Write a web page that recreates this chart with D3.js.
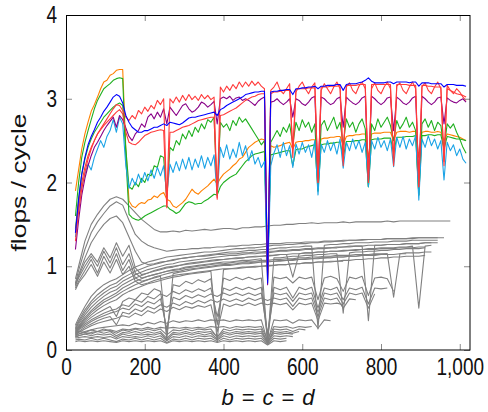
<!DOCTYPE html>
<html>
<head>
<meta charset="utf-8">
<script src="https://cdn.jsdelivr.net/npm/d3@7/dist/d3.min.js"></script>
<style>
  body { margin: 0; background: #fff; }
  text { font-family: "Liberation Sans", Arial, sans-serif; fill: #111; }
</style>
</head>
<body>
<svg width="488" height="412"></svg>
<script>
// sample grids (b = c = d)
var colorX = d3.range(24, 1017, 8);                 // 125 points
var grayX = [24].concat(d3.range(32, 1009, 16));    // 63 points

var xTicks = [0, 200, 400, 600, 800, 1000];
var xTickLabels = ["0", "200", "400", "600", "800", "1,000"];
var yTicks = [0, 1, 2, 3, 4];

// coloured series, one row = 64 units of x
var orangeVals = [
  1.90, 2.15, 2.40, 2.58, 2.72, 2.85, 2.93, 3.02,
  3.12, 3.20, 3.22, 3.28, 3.30, 3.34, 3.35, 3.35,
  2.40, 1.78, 1.72, 1.70, 1.74, 1.76, 1.75, 1.79,
  1.80, 1.84, 1.82, 1.86, 1.88, 1.80, 1.78, 1.72,
  1.70, 1.73, 1.76, 1.80, 1.86, 1.92, 1.88, 1.86,
  1.90, 1.93, 1.96, 2.00, 2.04, 1.98, 2.05, 2.10,
  2.13, 2.16, 2.20, 2.23, 2.28, 2.30, 2.36, 2.42,
  2.45, 2.48, 2.50, 2.52, 2.51, 0.95, 2.44, 2.42,
  2.43, 2.44, 2.46, 2.47, 2.48, 2.40, 2.48, 2.49,
  2.49, 2.50, 2.50, 2.51, 2.51, 2.30, 2.52, 2.53,
  2.53, 2.54, 2.54, 2.55, 2.55, 2.45, 2.55, 2.56,
  2.56, 2.57, 2.57, 2.58, 2.58, 2.30, 2.58, 2.59,
  2.59, 2.59, 2.60, 2.60, 2.60, 2.50, 2.60, 2.61,
  2.61, 2.61, 2.60, 2.61, 2.61, 2.30, 2.60, 2.61,
  2.61, 2.60, 2.60, 2.61, 2.60, 2.50, 2.58, 2.57,
  2.56, 2.55, 2.54, 2.52, 2.50];

var greenTopVals = [
  1.60, 2.00, 2.30, 2.48, 2.62, 2.75, 2.88, 2.98,
  3.05, 3.12, 3.15, 3.18, 3.22, 3.24, 3.25, 3.24,
  2.30, 1.62, 1.58, 1.56, 1.55, 1.57, 1.60, 1.62,
  1.64, 1.66, 1.68, 1.70, 1.72, 1.72, 1.68, 1.66,
  1.63, 1.65, 1.70, 1.75, 1.77, 1.76, 1.74, 1.75,
  1.75, 1.78, 1.80, 1.83, 1.86, 1.85, 1.95, 2.00,
  2.03, 2.06, 2.08, 2.10, 2.15, 2.20, 2.25, 2.28,
  2.32, 2.34, 2.35, 2.36, 2.37, 0.92, 2.33, 2.34,
  2.35, 2.36, 2.37, 2.38, 2.38, 2.20, 2.39, 2.40,
  2.40, 2.42, 2.43, 2.44, 2.45, 1.90, 2.45, 2.46,
  2.46, 2.47, 2.47, 2.48, 2.48, 2.30, 2.49, 2.49,
  2.49, 2.50, 2.50, 2.51, 2.51, 1.95, 2.51, 2.52,
  2.52, 2.52, 2.53, 2.53, 2.53, 2.35, 2.54, 2.54,
  2.54, 2.55, 2.55, 2.55, 2.56, 1.85, 2.56, 2.56,
  2.57, 2.57, 2.56, 2.57, 2.57, 2.40, 2.55, 2.54,
  2.53, 2.52, 2.52, 2.51, 2.50];

var greenLowVals = [
  1.45, 1.80, 2.10, 2.28, 2.42, 2.52, 2.60, 2.66,
  2.72, 2.78, 2.82, 2.86, 2.90, 2.93, 2.95, 2.92,
  2.40, 1.95, 1.92, 2.00, 1.95, 2.05, 2.00, 2.10,
  2.08, 2.20, 2.18, 2.32, 2.30, 1.80, 2.42, 2.38,
  2.50, 2.45, 2.58, 2.52, 2.62, 2.55, 2.66, 2.60,
  2.70, 2.64, 2.75, 2.72, 2.78, 1.85, 2.72, 2.66,
  2.70, 2.62, 2.74, 2.68, 2.78, 2.72, 2.76, 2.70,
  2.64, 2.58, 2.52, 2.45, 2.50, 0.90, 2.48, 2.55,
  2.62, 2.55, 2.66, 2.60, 2.70, 2.45, 2.72, 2.62,
  2.75, 2.66, 2.72, 2.60, 2.70, 1.90, 2.68, 2.74,
  2.62, 2.70, 2.78, 2.64, 2.72, 2.45, 2.76, 2.66,
  2.72, 2.60, 2.70, 2.76, 2.64, 1.95, 2.70, 2.62,
  2.76, 2.66, 2.72, 2.78, 2.68, 2.50, 2.74, 2.64,
  2.70, 2.78, 2.66, 2.72, 2.62, 1.85, 2.70, 2.76,
  2.66, 2.74, 2.62, 2.72, 2.68, 2.40, 2.70, 2.65,
  2.70, 2.60, 2.52, 2.42, 2.35];

var cyanVals = [
  1.35, 1.70, 1.95, 2.10, 2.22, 2.15, 2.30, 2.40,
  2.50, 2.42, 2.55, 2.62, 2.75, 2.60, 2.78, 2.70,
  2.20, 1.93, 2.05, 1.97, 2.10, 2.00, 2.12, 2.02,
  2.15, 2.05, 2.18, 2.08, 2.20, 1.86, 2.22, 2.12,
  2.25, 2.14, 2.28, 2.16, 2.30, 2.15, 2.28, 2.18,
  2.32, 2.17, 2.30, 2.20, 2.33, 1.84, 2.42, 2.30,
  2.45, 2.28, 2.40, 2.30, 2.48, 2.32, 2.44, 2.26,
  2.38, 2.22, 2.30, 2.18, 2.25, 0.82, 2.20, 2.35,
  2.45, 2.30, 2.48, 2.32, 2.44, 2.18, 2.46, 2.34,
  2.48, 2.36, 2.45, 2.30, 2.50, 1.85, 2.46, 2.36,
  2.50, 2.38, 2.48, 2.34, 2.52, 2.17, 2.48, 2.38,
  2.52, 2.40, 2.50, 2.36, 2.48, 1.95, 2.50, 2.40,
  2.54, 2.42, 2.50, 2.38, 2.52, 2.19, 2.54, 2.42,
  2.55, 2.40, 2.52, 2.44, 2.56, 1.79, 2.52, 2.42,
  2.56, 2.44, 2.52, 2.40, 2.50, 2.03, 2.48, 2.38,
  2.45, 2.32, 2.40, 2.28, 2.23];

var purpleVals = [
  1.20, 1.55, 1.85, 2.05, 2.20, 2.32, 2.42, 2.48,
  2.55, 2.62, 2.68, 2.73, 2.78, 2.66, 2.80, 2.75,
  2.65, 2.55, 2.50, 2.58, 2.62, 2.70, 2.66, 2.78,
  2.82, 2.76, 2.84, 2.78, 2.88, 2.70, 2.90, 2.85,
  2.80, 2.86, 2.92, 2.94, 2.88, 2.84, 2.86, 2.90,
  2.96, 2.94, 2.90, 2.93, 2.97, 2.70, 3.00, 3.02,
  3.00, 3.03, 2.98, 3.01, 3.02, 2.98, 3.00, 2.98,
  2.95, 2.92, 2.97, 3.00, 3.02, 0.78, 2.96, 2.97,
  3.00, 2.96, 2.93, 2.96, 3.00, 2.78, 3.00, 2.98,
  2.94, 2.92, 2.96, 3.01, 3.03, 2.05, 3.02, 3.00,
  2.96, 2.93, 2.95, 3.00, 3.02, 2.66, 3.02, 2.98,
  2.95, 2.93, 2.96, 3.01, 3.03, 2.07, 3.03, 3.00,
  2.96, 2.93, 2.96, 3.01, 3.02, 2.62, 3.02, 2.99,
  2.95, 2.93, 2.96, 3.01, 3.03, 2.05, 3.03, 3.00,
  2.96, 2.93, 2.96, 3.01, 3.02, 2.70, 3.01, 2.98,
  2.96, 2.95, 2.98, 3.00, 2.96];

var redAVals = [
  1.40, 1.75, 2.00, 2.18, 2.32, 2.42, 2.50, 2.58,
  2.64, 2.70, 2.76, 2.82, 2.88, 2.93, 2.92, 2.86,
  2.78, 2.74, 2.80, 2.76, 2.86, 2.82, 2.90, 2.85,
  2.92, 2.88, 2.98, 2.93, 3.00, 1.72, 3.00, 2.95,
  3.02, 2.96, 3.04, 2.98, 3.05, 2.99, 3.03, 2.98,
  3.05, 3.00, 3.04, 2.99, 3.02, 1.80, 3.14, 3.08,
  3.15, 3.10, 3.17, 3.12, 3.20, 3.14, 3.20, 3.15,
  3.21, 3.16, 3.20, 3.15, 3.12, 0.85, 3.10, 3.14,
  3.20, 3.10, 3.06, 3.12, 3.18, 2.30, 3.08, 3.15,
  3.20, 3.12, 3.06, 3.14, 3.19, 2.00, 3.10, 3.18,
  3.12, 3.06, 3.14, 3.20, 3.12, 2.20, 3.14, 3.19,
  3.10, 3.06, 3.15, 3.20, 3.12, 2.00, 3.12, 3.19,
  3.10, 3.06, 3.14, 3.20, 3.12, 2.20, 3.15, 3.19,
  3.10, 3.06, 3.14, 3.20, 3.12, 1.95, 3.14, 3.19,
  3.10, 3.06, 3.14, 3.20, 3.12, 2.20, 3.16, 3.10,
  3.06, 3.12, 3.08, 3.02, 2.98];

var redBVals = [
  1.30, 1.65, 1.92, 2.12, 2.28, 2.40, 2.50, 2.58,
  2.63, 2.68, 2.72, 2.76, 2.80, 2.84, 2.87, 2.82,
  2.60, 2.48, 2.46, 2.45, 2.48, 2.52, 2.56, 2.58,
  2.60, 2.61, 2.62, 2.63, 2.62, 1.70, 2.60, 2.60,
  2.62, 2.64, 2.66, 2.67, 2.68, 2.70, 2.72, 2.74,
  2.75, 2.76, 2.77, 2.78, 2.78, 1.82, 2.80, 2.81,
  2.83, 2.85, 2.87, 2.89, 2.92, 2.95, 2.98, 3.00,
  3.02, 3.03, 3.05, 3.06, 3.06, 0.88, 3.06, 3.08,
  3.08, 3.09, 3.10, 3.10, 3.10, 2.40, 3.11, 3.12,
  3.12, 3.12, 3.13, 3.13, 3.13, 2.00, 3.14, 3.14,
  3.14, 3.15, 3.15, 3.15, 3.16, 2.25, 3.16, 3.16,
  3.16, 3.16, 3.17, 3.17, 3.17, 2.00, 3.17, 3.17,
  3.17, 3.17, 3.17, 3.17, 3.17, 2.25, 3.17, 3.17,
  3.17, 3.17, 3.16, 3.16, 3.16, 1.95, 3.16, 3.16,
  3.15, 3.15, 3.14, 3.14, 3.14, 2.25, 3.12, 3.10,
  3.08, 3.06, 3.05, 3.04, 3.02];

var blueVals = [
  1.40, 1.80, 2.10, 2.30, 2.45, 2.55, 2.63, 2.72,
  2.78, 2.85, 2.90, 2.96, 3.02, 3.05, 3.03, 2.95,
  2.80, 2.72, 2.66, 2.63, 2.60, 2.60, 2.62, 2.62,
  2.64, 2.66, 2.66, 2.68, 2.70, 2.68, 2.72, 2.71,
  2.70, 2.69, 2.71, 2.74, 2.77, 2.78, 2.78, 2.79,
  2.80, 2.81, 2.82, 2.83, 2.84, 2.80, 2.87, 2.89,
  2.92, 2.94, 2.96, 2.98, 3.00, 3.02, 3.05, 3.06,
  3.07, 3.08, 3.08, 3.09, 3.09, 0.80, 3.08, 3.09,
  3.09, 3.10, 3.10, 3.11, 3.11, 3.05, 3.12, 3.12,
  3.13, 3.13, 3.14, 3.14, 3.15, 3.12, 3.15, 3.15,
  3.16, 3.16, 3.16, 3.17, 3.17, 3.10, 3.17, 3.18,
  3.18, 3.18, 3.19, 3.20, 3.22, 3.25, 3.21, 3.19,
  3.19, 3.19, 3.19, 3.20, 3.20, 3.18, 3.20, 3.20,
  3.20, 3.20, 3.19, 3.20, 3.20, 3.15, 3.19, 3.19,
  3.19, 3.18, 3.18, 3.18, 3.18, 3.14, 3.17, 3.17,
  3.17, 3.16, 3.16, 3.16, 3.15];

// grey series, one row = 128 units of x (last value of each row sits on a multiple of 128)
var g01 = [0.85, 1.00, 1.30, 1.50, 1.62, 1.72, 1.80, 1.83,
  1.80, 1.72, 1.64, 1.56, 1.50, 1.44, 1.41, 1.41,
  1.42, 1.41, 1.43, 1.42, 1.43, 1.44, 1.43, 1.44,
  1.45, 1.45, 1.44, 1.46, 1.46, 1.47, 1.47, 1.48,
  1.49, 1.49, 1.50, 1.50, 1.51, 1.51, 1.52, 1.51,
  1.52, 1.52, 1.52, 1.53, 1.52, 1.53, 1.53, 1.53,
  1.53, 1.53, 1.54, 1.53, 1.54, 1.54, 1.54, 1.54,
  1.54, 1.54, 1.54, 1.54, 1.54];
var g02 = [0.80, 0.95, 1.20, 1.40, 1.53, 1.63, 1.72, 1.77,
  1.73, 1.55, 1.38, 1.30, 1.25, 1.22, 1.20, 1.18,
  1.19, 1.20, 1.20, 1.21, 1.21, 1.22, 1.22, 1.23,
  1.23, 1.24, 1.24, 1.25, 1.25, 1.26, 1.26, 1.27,
  1.27, 1.27, 1.28, 1.28, 1.28, 1.29, 1.29, 1.29,
  1.30, 1.30, 1.30, 1.31, 1.31, 1.31, 1.32, 1.32,
  1.32, 1.32, 1.33, 1.33, 1.33, 1.33, 1.33, 1.34,
  1.34, 1.34, 1.34];
var g03 = [0.78, 0.90, 1.10, 1.28, 1.40, 1.50, 1.57, 1.60,
  1.52, 1.35, 1.18, 1.05, 1.02, 1.03, 1.05, 1.06,
  1.08, 1.09, 1.10, 1.11, 1.12, 1.12, 1.13, 1.14,
  1.14, 1.15, 1.15, 1.16, 1.16, 1.17, 1.17, 1.18,
  1.18, 1.19, 1.19, 1.20, 1.20, 1.21, 1.21, 1.22,
  1.22, 1.22, 1.23, 1.23, 1.24, 1.24, 1.24, 1.25,
  1.25, 1.25, 1.26, 1.26, 1.26, 1.27, 1.27, 1.27,
  1.28, 1.28];
var g04 = [0.76, 0.88, 1.05, 1.15, 1.05, 1.22, 1.10, 1.28,
  1.12, 1.25, 0.98, 0.90, 0.92, 0.95, 0.97, 0.99,
  1.00, 1.01, 1.03, 1.04, 1.05, 1.06, 1.07, 1.08,
  1.08, 1.09, 1.10, 1.10, 1.11, 1.12, 1.12, 1.13,
  1.13, 1.14, 1.14, 1.15, 1.15, 1.16, 1.16, 1.17,
  1.17, 1.18, 1.18, 1.18, 1.19, 1.19, 1.20, 1.20,
  1.20, 1.21, 1.21, 1.21, 1.22, 1.22, 1.22, 1.23,
  1.23];
var g05 = [0.74, 0.82, 0.95, 1.08, 0.92, 1.12, 0.98, 1.15,
  0.95, 1.08, 0.86, 0.82, 0.84, 0.87, 0.89, 0.91,
  0.93, 0.94, 0.96, 0.97, 0.98, 0.99, 1.00, 1.01,
  1.02, 1.02, 1.03, 1.04, 1.04, 1.05, 1.05, 1.06,
  1.06, 1.07, 1.07, 1.08, 1.08, 1.09, 1.09, 1.10,
  1.10, 1.11, 1.11, 1.11, 1.12, 1.12, 1.13, 1.13,
  1.13, 1.14, 1.14, 1.14, 1.15, 1.15];
var g06 = [0.30, 0.38, 0.52, 0.64, 0.72, 0.78, 0.82, 0.85,
  0.90, 0.95, 0.99, 1.02, 1.05, 1.07, 1.09, 1.11,
  1.12, 1.13, 1.14, 1.15, 1.16, 1.17, 1.17, 1.18,
  1.19, 1.20, 1.21, 1.21, 1.22, 1.22, 1.23, 1.24,
  1.25, 1.25, 1.26, 1.26, 1.27, 1.27, 1.28, 1.28,
  1.29, 1.29, 1.30, 1.30, 1.31, 1.31, 1.31, 1.32,
  1.32, 1.32, 1.33, 1.33, 1.33, 1.33, 1.34, 1.34,
  1.34, 1.34, 1.34, 1.34];
var g07 = [0.28, 0.35, 0.48, 0.58, 0.66, 0.72, 0.77, 0.80,
  0.86, 0.90, 0.94, 0.97, 1.00, 1.02, 1.04, 1.06,
  1.07, 1.09, 1.10, 1.11, 1.12, 1.13, 1.14, 1.15,
  1.16, 1.17, 1.17, 1.18, 1.19, 1.19, 1.20, 1.20,
  1.21, 1.22, 1.22, 1.23, 1.23, 1.24, 1.24, 0.25,
  1.25, 1.26, 1.26, 1.27, 1.27, 1.28, 1.28, 1.28,
  1.29, 1.29, 1.29, 1.30, 1.30, 1.30, 1.31, 1.31,
  1.31, 1.31, 1.31];
var g08 = [0.26, 0.33, 0.45, 0.55, 0.62, 0.68, 0.73, 0.76,
  0.82, 0.86, 0.90, 0.93, 0.96, 0.98, 1.00, 1.02,
  1.03, 1.05, 1.06, 1.07, 1.08, 1.09, 1.10, 1.11,
  1.12, 1.13, 1.13, 1.14, 1.15, 1.15, 1.16, 1.16,
  1.17, 1.18, 1.18, 1.19, 1.19, 1.20, 1.20, 1.21,
  1.21, 1.22, 1.22, 1.23, 1.23, 1.24, 1.24, 0.35,
  1.25, 1.25, 1.26, 1.26, 1.26, 1.27, 1.27, 1.27,
  1.28, 1.28, 1.28];
var g09 = [0.25, 0.31, 0.42, 0.51, 0.58, 0.64, 0.69, 0.72,
  0.78, 0.82, 0.86, 0.89, 0.92, 0.94, 0.96, 0.98,
  0.99, 1.01, 1.02, 1.03, 1.04, 1.05, 1.06, 1.07,
  1.08, 1.09, 1.09, 1.10, 1.11, 1.11, 1.12, 1.12,
  1.13, 1.14, 1.14, 0.87, 1.15, 1.16, 1.16, 1.17,
  1.17, 1.18, 1.18, 1.19, 1.19, 1.20, 1.20, 1.21,
  1.21, 1.22, 1.22, 1.22, 1.23, 1.23, 1.24, 0.50,
  1.24, 1.25];
var g10 = [0.24, 0.29, 0.39, 0.47, 0.54, 0.60, 0.64, 0.68,
  0.74, 0.78, 0.82, 0.85, 0.88, 0.90, 0.92, 0.94,
  0.96, 0.97, 0.99, 1.00, 1.01, 1.02, 1.03, 1.04,
  1.05, 1.05, 1.06, 1.07, 1.07, 1.08, 1.09, 0.08,
  1.10, 1.10, 1.11, 1.12, 1.12, 1.13, 1.13, 1.14,
  1.14, 1.15, 1.15, 0.44, 1.16, 1.17, 1.17, 1.18,
  1.18, 1.19, 1.19, 1.20, 1.20, 1.21, 1.21, 1.21,
  1.22];
var g11 = [0.23, 0.28, 0.37, 0.45, 0.51, 0.57, 0.61, 0.65,
  0.70, 0.74, 0.78, 0.81, 0.84, 0.86, 0.88, 0.12,
  0.91, 0.93, 0.94, 0.96, 0.97, 0.98, 0.99, 1.00,
  1.01, 1.01, 1.02, 1.03, 1.03, 1.04, 1.05, 1.05,
  1.06, 1.06, 1.07, 1.07, 1.08, 1.08, 1.09, 1.09,
  1.10, 1.10, 1.11, 1.11, 1.12, 1.12, 1.13, 1.13,
  1.14, 1.14, 1.15, 0.63, 1.15, 1.16, 1.16, 1.16,
  1.17, 1.17];
var g12 = [0.22, 0.27, 0.35, 0.42, 0.48, 0.53, 0.57, 0.60,
  0.66, 0.70, 0.73, 0.76, 0.79, 0.81, 0.83, 0.85,
  0.87, 0.88, 0.90, 0.91, 0.92, 0.93, 0.94, 0.10,
  0.96, 0.97, 0.97, 0.98, 0.99, 0.99, 1.00, 1.00,
  1.01, 1.02, 1.02, 1.03, 1.03, 1.04, 1.04, 1.05,
  1.05, 1.06, 1.06, 1.07, 1.07, 1.08, 1.08, 1.09,
  1.09, 1.10, 1.10, 1.11, 1.11, 1.12, 1.12, 1.12,
  1.13];
var g13 = [0.21, 0.26, 0.33, 0.39, 0.44, 0.48, 0.52, 0.40,
  0.58, 0.62, 0.60, 0.68, 0.66, 0.73, 0.70, 0.20,
  0.78, 0.76, 0.82, 0.79, 0.84, 0.81, 0.85, 0.30,
  0.86, 0.83, 0.87, 0.84, 0.87, 0.84, 0.86, 0.15,
  0.87, 0.85, 0.87, 0.80, 0.87, 0.85, 0.87, 0.60,
  0.86, 0.88, 0.85, 0.70, 0.87, 0.85, 0.88, 0.65,
  0.86, 0.87, 0.85, 0.70];
var g14 = [0.20, 0.25, 0.31, 0.36, 0.40, 0.44, 0.47, 0.49,
  0.54, 0.52, 0.60, 0.57, 0.64, 0.61, 0.67, 0.64,
  0.70, 0.67, 0.72, 0.69, 0.73, 0.70, 0.74, 0.40,
  0.74, 0.71, 0.75, 0.72, 0.75, 0.72, 0.75, 0.12,
  0.75, 0.72, 0.75, 0.62, 0.75, 0.72, 0.75, 0.50,
  0.74, 0.72, 0.75, 0.60, 0.74, 0.72, 0.75, 0.55,
  0.74, 0.73, 0.74];
var g15 = [0.19, 0.24, 0.29, 0.34, 0.38, 0.41, 0.44, 0.46,
  0.50, 0.48, 0.55, 0.52, 0.58, 0.55, 0.61, 0.25,
  0.63, 0.60, 0.65, 0.62, 0.66, 0.63, 0.67, 0.64,
  0.68, 0.65, 0.68, 0.65, 0.68, 0.65, 0.68, 0.20,
  0.68, 0.66, 0.68, 0.58, 0.68, 0.66, 0.68, 0.45,
  0.68, 0.66, 0.68, 0.55, 0.68, 0.66, 0.68, 0.50,
  0.67];
var g16 = [0.18, 0.22, 0.27, 0.31, 0.35, 0.38, 0.40, 0.30,
  0.45, 0.43, 0.49, 0.46, 0.52, 0.49, 0.54, 0.51,
  0.56, 0.53, 0.58, 0.55, 0.59, 0.56, 0.60, 0.57,
  0.61, 0.58, 0.61, 0.58, 0.62, 0.59, 0.62, 0.59,
  0.62, 0.60, 0.62, 0.52, 0.62, 0.60, 0.62, 0.40,
  0.62, 0.60, 0.62, 0.50, 0.61, 0.60];
var g17 = [0.17, 0.21, 0.25, 0.29, 0.32, 0.34, 0.36, 0.38,
  0.41, 0.39, 0.44, 0.41, 0.47, 0.44, 0.49, 0.46,
  0.51, 0.48, 0.52, 0.50, 0.53, 0.51, 0.54, 0.22,
  0.55, 0.52, 0.55, 0.53, 0.56, 0.53, 0.56, 0.54,
  0.56, 0.54, 0.56, 0.48, 0.56, 0.54, 0.56, 0.35,
  0.56, 0.55, 0.56, 0.54];
var g18 = [0.16, 0.19, 0.22, 0.24, 0.26, 0.27, 0.28, 0.29,
  0.30, 0.29, 0.32, 0.30, 0.33, 0.31, 0.34, 0.32,
  0.35, 0.33, 0.35, 0.34, 0.36, 0.34, 0.36, 0.35,
  0.36, 0.34, 0.36, 0.35, 0.36, 0.35, 0.36, 0.10,
  0.36, 0.35, 0.36, 0.32, 0.36, 0.35, 0.36, 0.26,
  0.36, 0.35];
var g19 = [0.15, 0.17, 0.19, 0.21, 0.22, 0.23, 0.24, 0.22,
  0.25, 0.24, 0.26, 0.25, 0.27, 0.25, 0.27, 0.26,
  0.27, 0.26, 0.27, 0.26, 0.27, 0.26, 0.28, 0.27,
  0.28, 0.26, 0.28, 0.27, 0.28, 0.27, 0.28, 0.12,
  0.28, 0.27, 0.28, 0.26, 0.28, 0.27, 0.28];
var g20 = [0.20, 0.22, 0.21, 0.24, 0.22, 0.25, 0.23, 0.20,
  0.24, 0.22, 0.25, 0.23, 0.25, 0.23, 0.25, 0.18,
  0.24, 0.23, 0.25, 0.23, 0.25, 0.24, 0.25, 0.15,
  0.25, 0.23, 0.25, 0.24, 0.25, 0.24, 0.25, 0.08,
  0.25, 0.24, 0.25, 0.22, 0.25, 0.24];
var g21 = [0.18, 0.19, 0.21, 0.19, 0.22, 0.20, 0.22, 0.17,
  0.21, 0.20, 0.22, 0.20, 0.22, 0.20, 0.22, 0.14,
  0.21, 0.20, 0.22, 0.20, 0.22, 0.21, 0.22, 0.16,
  0.22, 0.20, 0.22, 0.21, 0.22, 0.21, 0.22, 0.10,
  0.22, 0.21, 0.22, 0.20, 0.22];
var g22 = [0.16, 0.17, 0.19, 0.17, 0.19, 0.18, 0.19, 0.15,
  0.19, 0.17, 0.19, 0.18, 0.19, 0.18, 0.20, 0.12,
  0.19, 0.18, 0.20, 0.18, 0.20, 0.18, 0.20, 0.13,
  0.20, 0.18, 0.20, 0.19, 0.20, 0.19, 0.20, 0.09,
  0.20, 0.19, 0.20, 0.19];
var g23 = [0.14, 0.15, 0.16, 0.15, 0.16, 0.15, 0.16, 0.13,
  0.16, 0.15, 0.16, 0.15, 0.17, 0.15, 0.17, 0.11,
  0.16, 0.15, 0.17, 0.15, 0.17, 0.16, 0.17, 0.12,
  0.17, 0.15, 0.17, 0.16, 0.17, 0.16, 0.17, 0.08,
  0.17, 0.16, 0.17, 0.16];
var g24 = [0.12, 0.13, 0.12, 0.14, 0.12, 0.14, 0.12, 0.10,
  0.13, 0.12, 0.14, 0.12, 0.14, 0.12, 0.14, 0.09,
  0.13, 0.12, 0.14, 0.12, 0.14, 0.13, 0.14, 0.10,
  0.14, 0.12, 0.14, 0.13, 0.14, 0.13, 0.14, 0.07,
  0.14, 0.13, 0.14];
var g25 = [0.10, 0.11, 0.10, 0.11, 0.10, 0.11, 0.10, 0.09,
  0.11, 0.10, 0.11, 0.10, 0.11, 0.10, 0.11, 0.08,
  0.11, 0.10, 0.11, 0.10, 0.11, 0.10, 0.11, 0.09,
  0.11, 0.10, 0.11, 0.10, 0.11, 0.10, 0.11, 0.06,
  0.11, 0.10, 0.11];
var g26 = [0.78, 0.86, 1.00, 1.12, 1.00, 1.18, 1.04, 1.22,
  1.02, 1.15, 0.92, 0.86, 0.88, 0.90, 0.92, 0.94,
  0.95, 0.96, 0.98, 0.99, 1.00, 1.01, 1.02, 1.03,
  1.03, 1.04, 1.05, 1.05, 1.06, 1.06, 1.07, 1.07,
  1.08, 1.08, 1.09, 1.09, 1.10, 1.10, 1.11, 1.11,
  1.12, 1.12, 1.13, 1.13, 1.13, 1.14, 1.14, 1.14,
  1.15, 1.15, 1.15];
var g27 = [0.72, 0.80, 0.90, 1.02, 0.88, 1.05, 0.92, 1.08,
  0.90, 1.00, 0.82, 0.78, 0.80, 0.83, 0.85, 0.87,
  0.89, 0.90, 0.91, 0.92, 0.93, 0.94, 0.95, 0.96,
  0.97, 0.97, 0.98, 0.99, 0.99, 1.00, 1.00, 1.01,
  1.01, 1.02, 1.02, 1.03, 1.03, 1.04, 1.04, 1.05,
  1.05, 1.05, 1.06, 1.06];

var grayLines = [g01, g02, g03, g04, g05, g26, g27, g06, g07, g08, g09, g10, g11, g12,
  g13, g14, g15, g16, g17, g18, g19, g20, g21, g22, g23, g24, g25];

// drawing order: later ones on top
var colorSeries = [
  { vals: orangeVals, color: "#ff8000" },
  { vals: greenTopVals, color: "#20b020" },
  { vals: greenLowVals, color: "#20b020" },
  { vals: cyanVals, color: "#1ba3e6" },
  { vals: purpleVals, color: "#880088" },
  { vals: redBVals, color: "#ff3a3a" },
  { vals: redAVals, color: "#ff3a3a" },
  { vals: blueVals, color: "#0000ff" }
];

var svg = d3.select("svg"),
    margin = { top: 15, right: 18, bottom: 62, left: 66 },
    width = +svg.attr("width") - margin.left - margin.right,
    height = +svg.attr("height") - margin.top - margin.bottom;

var x = d3.scaleLinear().domain([0, 1026]).range([0, width]),
    y = d3.scaleLinear().domain([0, 4]).range([height, 0]);

var g = svg.append("g")
    .attr("transform", "translate(" + margin.left + "," + margin.top + ")");

svg.append("defs").append("clipPath")
    .attr("id", "clip")
    .append("rect")
    .attr("width", width)
    .attr("height", height);

var plot = g.append("g").attr("clip-path", "url(#clip)");

var grayLine = d3.line()
    .x(function (d, i) { return x(grayX[i]); })
    .y(function (d) { return y(d); });

var colorLine = d3.line()
    .x(function (d, i) { return x(colorX[i]); })
    .y(function (d) { return y(d); });

grayLines.forEach(function (vals) {
  plot.append("path")
      .datum(vals)
      .attr("fill", "none")
      .attr("stroke", "#808080")
      .attr("stroke-width", 1.1)
      .attr("stroke-linejoin", "round")
      .attr("d", grayLine);
});

colorSeries.forEach(function (s) {
  plot.append("path")
      .datum(s.vals)
      .attr("fill", "none")
      .attr("stroke", s.color)
      .attr("stroke-width", 1.1)
      .attr("stroke-linejoin", "round")
      .attr("d", colorLine);
});

// axes: ticks point inward, on all four sides
var xAxis = d3.axisBottom(x).tickValues(xTicks)
    .tickSizeInner(-6).tickSizeOuter(0).tickPadding(6.5)
    .tickFormat(function (d, i) { return xTickLabels[i]; });
var yAxis = d3.axisLeft(y).tickValues(yTicks)
    .tickSizeInner(-6).tickSizeOuter(0).tickPadding(9)
    .tickFormat(d3.format("d"));

var gx = g.append("g")
    .attr("transform", "translate(0," + height + ")")
    .call(xAxis);
var gy = g.append("g").call(yAxis);
var gx2 = g.append("g")
    .call(d3.axisTop(x).tickValues(xTicks).tickSizeInner(-6).tickSizeOuter(0).tickFormat(""));
var gy2 = g.append("g")
    .attr("transform", "translate(" + width + ",0)")
    .call(d3.axisRight(y).tickValues(yTicks).tickSizeInner(-6).tickSizeOuter(0).tickFormat(""));

[gx, gy, gx2, gy2].forEach(function (a) {
  a.select(".domain").remove();
  a.selectAll(".tick line").attr("stroke", "#8a8a8a");
  a.selectAll("text")
      .attr("font-family", "Liberation Sans, Arial, sans-serif")
      .attr("font-size", 19)
      .attr("fill", "#111")
      .attr("transform", "scale(1,1.25)");
});

// frame
g.append("rect")
    .attr("x", 0.5).attr("y", 0.5)
    .attr("width", width - 0.5).attr("height", height - 0.5)
    .attr("fill", "none")
    .attr("stroke", "#000")
    .attr("stroke-width", 1);

// axis titles
svg.append("text")
    .attr("transform", "translate(26," + (margin.top + height / 2) + ") rotate(-90)")
    .attr("text-anchor", "middle")
    .attr("font-size", 20)
    .attr("textLength", 138)
    .attr("lengthAdjust", "spacingAndGlyphs")
    .text("flops / cycle");

var xl = svg.append("text")
    .attr("x", margin.left + width / 2)
    .attr("y", 405)
    .attr("text-anchor", "middle")
    .attr("font-size", 22)
    .attr("textLength", 93)
    .attr("lengthAdjust", "spacing");
xl.append("tspan").attr("font-style", "italic").text("b");
xl.append("tspan").text(" = ");
xl.append("tspan").attr("font-style", "italic").text("c");
xl.append("tspan").text(" = ");
xl.append("tspan").attr("font-style", "italic").text("d");
</script>
</body>
</html>
